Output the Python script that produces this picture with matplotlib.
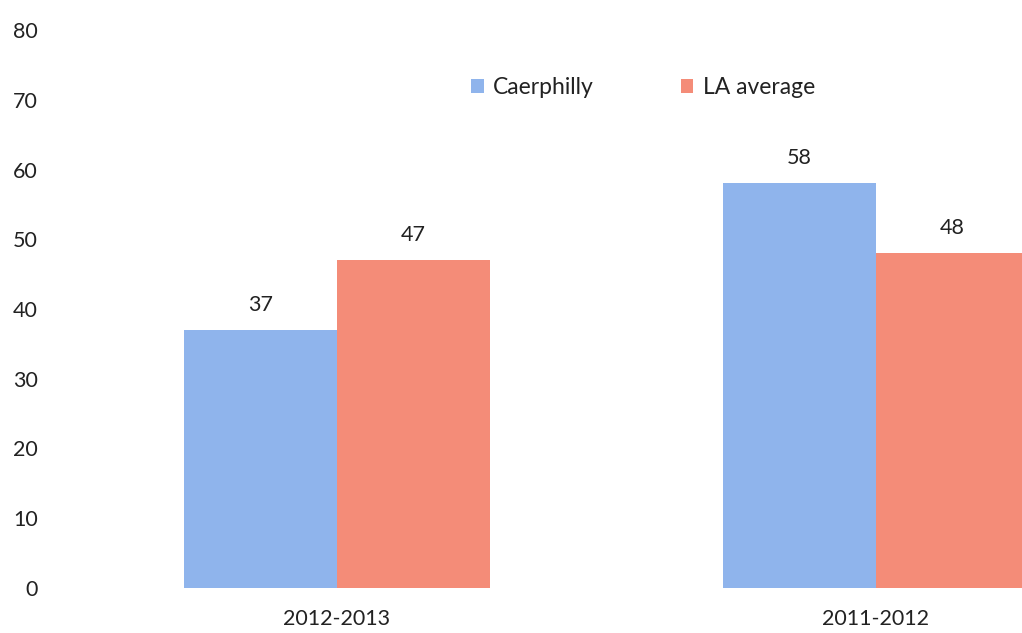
import numpy as np
import matplotlib.pyplot as plt

plt.rcParams['font.family'] = ['Lato', 'DejaVu Sans']

periods = ["2012-2013", "2011-2012"]
caerphilly = [37, 58]
la_average = [47, 48]
series_names = ["Caerphilly", "LA average"]
colors = ["#8fb4ec", "#f48c78"]

fig = plt.figure(figsize=(10.22, 6.33), dpi=100)
ax = fig.add_axes([0.0587, 0.0711, 0.9413, 0.8815])

x = np.arange(len(periods))
w = 0.284

b1 = ax.bar(x - w / 2, caerphilly, w, color=colors[0], label=series_names[0])
b2 = ax.bar(x + w / 2, la_average, w, color=colors[1], label=series_names[1])

# value labels above each bar
for bars, vals in ((b1, caerphilly), (b2, la_average)):
    for rect, v in zip(bars, vals):
        ax.annotate(str(v), (rect.get_x() + rect.get_width() / 2, v),
                    xytext=(0, 11), textcoords="offset points",
                    ha="center", va="bottom", fontsize=15.5, color="#222222")

ax.set_ylim(0, 80)
ax.set_yticks(range(0, 81, 10))
ax.set_xlim(-0.514, 1.271)
ax.set_xticks(x)
ax.set_xticklabels(periods)
ax.tick_params(axis="both", length=0, labelsize=15.5, colors="#222222")
ax.tick_params(axis="y", pad=16)
ax.tick_params(axis="x", pad=15)
for s in ax.spines.values():
    s.set_visible(False)

fig.legend(loc="center", bbox_to_anchor=(643 / 1022, 1 - 88 / 633), ncol=2,
           frameon=False, fontsize=16.5, handlelength=0.55, handleheight=0.55,
           columnspacing=3.8, handletextpad=0.4, labelcolor="#222222")

fig.savefig("out.png", dpi=100)
